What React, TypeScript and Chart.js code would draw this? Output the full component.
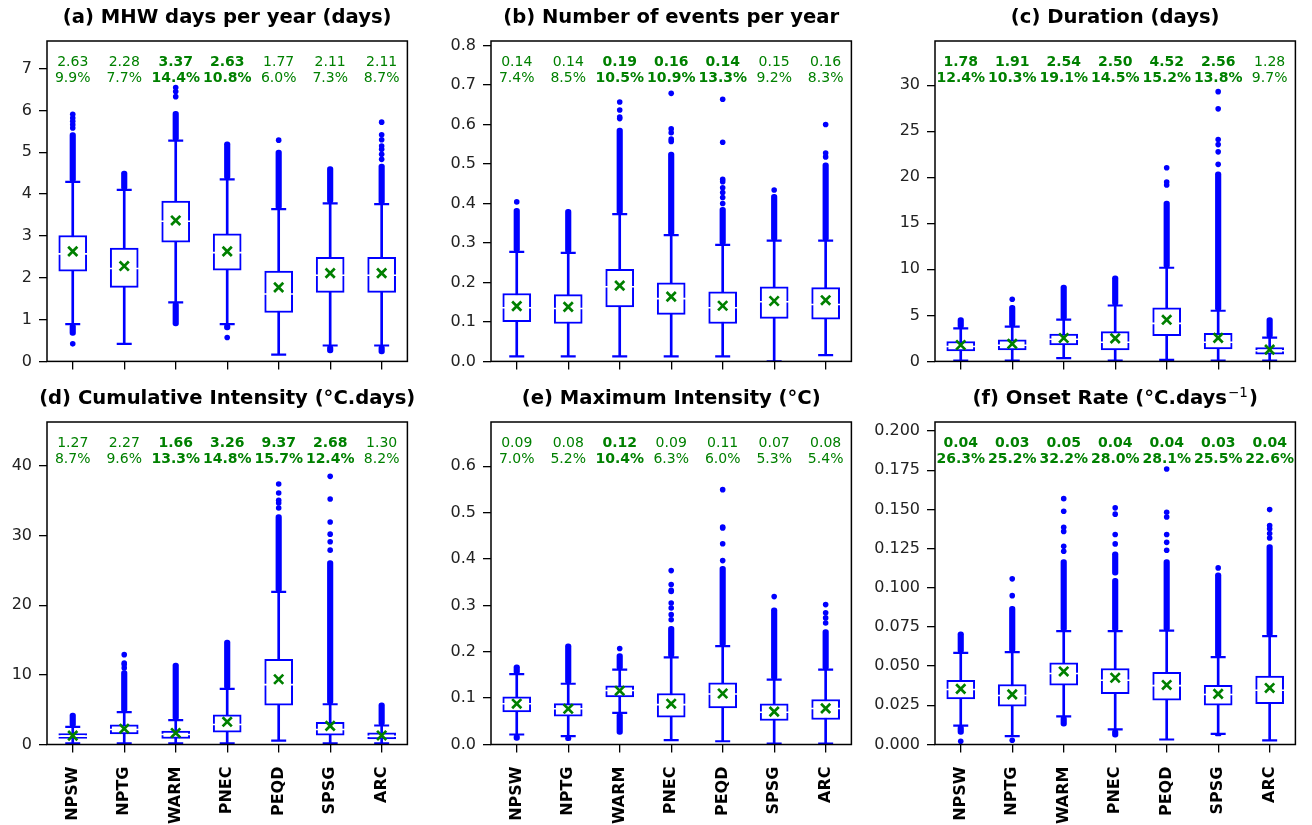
import React, { useEffect, useRef } from 'react';
import { Chart, registerables } from 'chart.js';

Chart.register(...registerables);

const FONT = "'DejaVu Sans', sans-serif";
const BLUE = '#0000ff';
const GREEN = '#008000';

const CATS = ['NPSW', 'NPTG', 'WARM', 'PNEC', 'PEQD', 'SPSG', 'ARC'];

// ---------- (a) MHW days per year ----------
const A_TICKS = [0, 1, 2, 3, 4, 5, 6, 7];
const A_YMAX = 7.66;
const A_Q1 = [2.16, 1.77, 2.85, 2.18, 1.17, 1.65, 1.65];
const A_MED = [2.57, 2.22, 3.35, 2.6, 1.61, 2.06, 2.06];
const A_Q3 = [3.01, 2.71, 3.83, 3.05, 2.16, 2.49, 2.49];
const A_WLO = [0.89, 0.42, 1.41, 0.89, 0.16, 0.38, 0.38];
const A_WHI = [4.29, 4.1, 5.28, 4.35, 3.64, 3.78, 3.76];
const A_MEAN = [2.63, 2.28, 3.37, 2.63, 1.77, 2.11, 2.11];
const A_HI_BAND = [[4.29, 5.47], [4.1, 4.55], [5.28, 5.98], [4.35, 5.25], [3.64, 5.05], [3.78, 4.66], [3.76, 4.72]];
const A_LO_BAND = [[0.62, 0.89], null, [0.85, 1.41], [0.75, 0.89], null, [0.2, 0.38], [0.18, 0.38]];
const A_FLIERS = [[0.42, 5.58, 5.66, 5.74, 5.82, 5.91], [], [6.33, 6.45, 6.55], [0.57], [5.29], [], [4.83, 4.95, 5.07, 5.15, 5.3, 5.42, 5.72]];
const A_NOTE_MEAN = ['2.63', '2.28', '3.37', '2.63', '1.77', '2.11', '2.11'];
const A_NOTE_PCT = ['9.9%', '7.7%', '14.4%', '10.8%', '6.0%', '7.3%', '8.7%'];
const A_BOLD = [false, false, true, true, false, false, false];

// ---------- (b) Number of events per year ----------
const B_TICKS = [0, 0.1, 0.2, 0.3, 0.4, 0.5, 0.6, 0.7, 0.8];
const B_YMAX = 0.8116;
const B_Q1 = [0.1006, 0.096, 0.138, 0.119, 0.096, 0.109, 0.107];
const B_MED = [0.136, 0.134, 0.189, 0.159, 0.136, 0.151, 0.144];
const B_Q3 = [0.172, 0.169, 0.233, 0.199, 0.176, 0.189, 0.187];
const B_WLO = [0.0126, 0.0126, 0.0126, 0.0126, 0.0126, 0.0, 0.016];
const B_WHI = [0.2775, 0.275, 0.373, 0.32, 0.295, 0.306, 0.306];
const B_MEAN = [0.14, 0.138, 0.192, 0.164, 0.141, 0.153, 0.155];
const B_HI_BAND = [[0.2775, 0.388], [0.275, 0.385], [0.373, 0.591], [0.32, 0.53], [0.295, 0.39], [0.306, 0.423], [0.306, 0.503]];
const B_FLIERS = [[0.404], [], [0.615, 0.619, 0.637, 0.657], [0.557, 0.563, 0.579, 0.589, 0.679], [0.4, 0.415, 0.428, 0.44, 0.455, 0.461, 0.555, 0.664], [0.434], [0.518, 0.528, 0.6]];
const B_NOTE_MEAN = ['0.14', '0.14', '0.19', '0.16', '0.14', '0.15', '0.16'];
const B_NOTE_PCT = ['7.4%', '8.5%', '10.5%', '10.9%', '13.3%', '9.2%', '8.3%'];
const B_BOLD = [false, false, true, true, true, false, false];

// ---------- (c) Duration ----------
const C_TICKS = [0, 5, 10, 15, 20, 25, 30];
const C_YMAX = 34.8;
const C_Q1 = [1.15, 1.25, 1.8, 1.26, 2.8, 1.36, 0.79];
const C_MED = [1.62, 1.75, 2.4, 2.08, 4.13, 2.08, 1.15];
const C_Q3 = [2.16, 2.33, 2.98, 3.24, 5.83, 3.05, 1.51];
const C_WLO = [0.1, 0.1, 0.36, 0.1, 0.17, 0.1, 0.1];
const C_WHI = [3.59, 3.78, 4.53, 6.07, 10.17, 5.5, 2.59];
const C_MEAN = [1.78, 1.91, 2.54, 2.5, 4.52, 2.56, 1.28];
const C_HI_BAND = [[3.59, 4.75], [3.78, 6.1], [4.53, 8.3], [6.07, 9.3], [10.17, 17.4], [5.5, 20.6], [2.59, 4.75]];
const C_FLIERS = [[], [6.75], [], [], [19.16, 19.48, 21.03], [21.4, 22.76, 23.55, 24.09, 27.43, 29.3], []];
const C_NOTE_MEAN = ['1.78', '1.91', '2.54', '2.50', '4.52', '2.56', '1.28'];
const C_NOTE_PCT = ['12.4%', '10.3%', '19.1%', '14.5%', '15.2%', '13.8%', '9.7%'];
const C_BOLD = [true, true, true, true, true, true, false];

// ---------- (d) Cumulative Intensity ----------
const D_TICKS = [0, 10, 20, 30, 40];
const D_YMAX = 46.3;
const D_Q1 = [0.86, 1.53, 0.86, 1.77, 5.64, 1.34, 0.81];
const D_MED = [1.2, 2.15, 1.43, 2.87, 8.6, 2.15, 1.19];
const D_Q3 = [1.58, 2.82, 1.91, 4.26, 12.24, 3.2, 1.68];
const D_WLO = [0.15, 0.15, 0.15, 0.15, 0.57, 0.15, 0.15];
const D_WHI = [2.54, 4.64, 3.49, 7.99, 21.9, 5.78, 2.73];
const D_MEAN = [1.27, 2.27, 1.66, 3.26, 9.37, 2.68, 1.3];
const D_HI_BAND = [[2.54, 4.5], [4.64, 10.6], [3.49, 11.7], [7.99, 15.0], [21.9, 33.0], [5.78, 26.4], [2.73, 6.0]];
const D_FLIERS = [[], [11.0, 11.5, 11.7, 12.9], [], [], [33.96, 34.68, 35.05, 36.1, 37.4], [27.9, 29.1, 30.2, 31.95, 35.25, 38.5], []];
const D_NOTE_MEAN = ['1.27', '2.27', '1.66', '3.26', '9.37', '2.68', '1.30'];
const D_NOTE_PCT = ['8.7%', '9.6%', '13.3%', '14.8%', '15.7%', '12.4%', '8.2%'];
const D_BOLD = [false, false, true, true, true, true, false];

// ---------- (e) Maximum Intensity ----------
const E_TICKS = [0, 0.1, 0.2, 0.3, 0.4, 0.5, 0.6];
const E_YMAX = 0.6955;
const E_Q1 = [0.0704, 0.061, 0.1028, 0.059, 0.079, 0.0517, 0.0539];
const E_MED = [0.088, 0.077, 0.1164, 0.086, 0.109, 0.0697, 0.0776];
const E_Q3 = [0.1028, 0.088, 0.1265, 0.11, 0.133, 0.0877, 0.097];
const E_WLO = [0.0216, 0.018, 0.068, 0.0093, 0.007, 0.002, 0.002];
const E_WHI = [0.1516, 0.131, 0.1616, 0.188, 0.212, 0.14, 0.1616];
const E_MEAN = [0.088, 0.077, 0.116, 0.088, 0.11, 0.071, 0.078];
const E_HI_BAND = [[0.1516, 0.172], [0.131, 0.217], [0.1616, 0.196], [0.188, 0.255], [0.212, 0.384], [0.14, 0.2946], [0.1616, 0.248]];
const E_LO_BAND = [[0.009, 0.0216], [0.008, 0.018], [0.022, 0.068], null, null, null, null];
const E_FLIERS = [[], [], [0.207], [0.269, 0.28, 0.2945, 0.305, 0.33, 0.3325, 0.345, 0.375], [0.3966, 0.433, 0.467, 0.469, 0.5496], [0.319], [0.262, 0.273, 0.284, 0.3017]];
const E_NOTE_MEAN = ['0.09', '0.08', '0.12', '0.09', '0.11', '0.07', '0.08'];
const E_NOTE_PCT = ['7.0%', '5.2%', '10.4%', '6.3%', '6.0%', '5.3%', '5.4%'];
const E_BOLD = [false, false, true, false, false, false, false];

// ---------- (f) Onset Rate ----------
const F_TICKS = [0, 0.025, 0.05, 0.075, 0.1, 0.125, 0.15, 0.175, 0.2];
const F_YMAX = 0.2058;
const F_Q1 = [0.0291, 0.0244, 0.0378, 0.0325, 0.0283, 0.0251, 0.026];
const F_MED = [0.0351, 0.0313, 0.0453, 0.041, 0.0376, 0.0319, 0.0346];
const F_Q3 = [0.041, 0.0383, 0.0521, 0.0485, 0.0461, 0.0378, 0.0436];
const F_WLO = [0.0121, 0.0053, 0.018, 0.0096, 0.0032, 0.0068, 0.0026];
const F_WHI = [0.0585, 0.0589, 0.0723, 0.0723, 0.0727, 0.0557, 0.0691];
const F_MEAN = [0.0355, 0.032, 0.0466, 0.0426, 0.038, 0.0323, 0.0361];
const F_HI_BAND = [[0.0585, 0.0719], [0.0589, 0.0882], [0.0723, 0.118], [0.0723, 0.106], [0.0727, 0.118], [0.0557, 0.1095], [0.0691, 0.1276]];
const F_HI_BAND2 = [null, null, null, [0.108, 0.123], null, null, null];
const F_LO_BAND = [[0.0064, 0.0121], null, [0.0117, 0.018], [0.0047, 0.0096], null, [0.0055, 0.0068], null];
const F_FLIERS = [[0.0021], [0.0027, 0.095, 0.1057], [0.1233, 0.1265, 0.136, 0.1386, 0.1488, 0.1569], [0.128, 0.134, 0.147, 0.151], [0.124, 0.129, 0.134, 0.1452, 0.1482, 0.1758], [0.1127], [0.1318, 0.1346, 0.1376, 0.1397, 0.1499]];
const F_NOTE_MEAN = ['0.04', '0.03', '0.05', '0.04', '0.04', '0.03', '0.04'];
const F_NOTE_PCT = ['26.3%', '25.2%', '32.2%', '28.0%', '28.1%', '25.5%', '22.6%'];
const F_BOLD = [true, true, true, true, true, true, true];

type Panel = {
  title: string; sup?: string; tail?: string;
  ticks: number[]; dec: number; ymax: number;
  q1: number[]; med: number[]; q3: number[]; wlo: number[]; whi: number[]; mean: number[];
  bands: (number[] | null)[][]; fliers: number[][];
  noteMean: string[]; notePct: string[]; bold: boolean[];
};

const PANELS: Panel[] = [
  { title: '(a) MHW days per year (days)', ticks: A_TICKS, dec: 0, ymax: A_YMAX, q1: A_Q1, med: A_MED, q3: A_Q3, wlo: A_WLO, whi: A_WHI, mean: A_MEAN, bands: [A_HI_BAND, A_LO_BAND], fliers: A_FLIERS, noteMean: A_NOTE_MEAN, notePct: A_NOTE_PCT, bold: A_BOLD },
  { title: '(b) Number of events per year', ticks: B_TICKS, dec: 1, ymax: B_YMAX, q1: B_Q1, med: B_MED, q3: B_Q3, wlo: B_WLO, whi: B_WHI, mean: B_MEAN, bands: [B_HI_BAND], fliers: B_FLIERS, noteMean: B_NOTE_MEAN, notePct: B_NOTE_PCT, bold: B_BOLD },
  { title: '(c) Duration (days)', ticks: C_TICKS, dec: 0, ymax: C_YMAX, q1: C_Q1, med: C_MED, q3: C_Q3, wlo: C_WLO, whi: C_WHI, mean: C_MEAN, bands: [C_HI_BAND], fliers: C_FLIERS, noteMean: C_NOTE_MEAN, notePct: C_NOTE_PCT, bold: C_BOLD },
  { title: '(d) Cumulative Intensity (°C.days)', ticks: D_TICKS, dec: 0, ymax: D_YMAX, q1: D_Q1, med: D_MED, q3: D_Q3, wlo: D_WLO, whi: D_WHI, mean: D_MEAN, bands: [D_HI_BAND], fliers: D_FLIERS, noteMean: D_NOTE_MEAN, notePct: D_NOTE_PCT, bold: D_BOLD },
  { title: '(e) Maximum Intensity (°C)', ticks: E_TICKS, dec: 1, ymax: E_YMAX, q1: E_Q1, med: E_MED, q3: E_Q3, wlo: E_WLO, whi: E_WHI, mean: E_MEAN, bands: [E_HI_BAND, E_LO_BAND], fliers: E_FLIERS, noteMean: E_NOTE_MEAN, notePct: E_NOTE_PCT, bold: E_BOLD },
  { title: '(f) Onset Rate (°C.days', sup: '\u22121', tail: ')', ticks: F_TICKS, dec: 3, ymax: F_YMAX, q1: F_Q1, med: F_MED, q3: F_Q3, wlo: F_WLO, whi: F_WHI, mean: F_MEAN, bands: [F_HI_BAND, F_HI_BAND2, F_LO_BAND], fliers: F_FLIERS, noteMean: F_NOTE_MEAN, notePct: F_NOTE_PCT, bold: F_BOLD },
];

// layout (pixels)
const COL_LEFT = [47, 491, 935];
const ROW_TOP = [41, 422];
const Y_AXIS_W = [60, 60, 66];
const PLOT_W = 370.5;
const PLOT_H = 322.5;
const PAD_TOP = 41;
const PAD_RIGHT = 6.5;

function pts(vals: number[]) {
  return vals.map((y, i) => ({ x: CATS[i], y }));
}
function flierPts(fl: number[][]) {
  const out: { x: string; y: number }[] = [];
  fl.forEach((arr, i) => arr.forEach((y) => out.push({ x: CATS[i], y })));
  return out;
}

function makeOverlay(p: Panel) {
  return {
    id: 'overlay',
    afterDraw(chart: any) {
      const { ctx, chartArea: ca, scales } = chart;
      ctx.save();
      ctx.strokeStyle = '#000';
      ctx.lineWidth = 1.5;
      ctx.strokeRect(ca.left, ca.top, ca.right - ca.left, ca.bottom - ca.top);
      ctx.textAlign = 'center';
      ctx.textBaseline = 'middle';
      ctx.fillStyle = GREEN;
      CATS.forEach((_, i) => {
        const x = scales.x.getPixelForValue(i);
        ctx.font = `${p.bold[i] ? 'bold ' : ''}14px ${FONT}`;
        ctx.fillText(p.noteMean[i], x, ca.top + 21.3);
        ctx.fillText(p.notePct[i], x, ca.top + 37.7);
      });
      // title
      const cx = (ca.left + ca.right) / 2;
      const ty = ca.top - 22.8;
      ctx.fillStyle = '#000';
      const fMain = `bold 19.6px ${FONT}`;
      const fSup = `13.5px ${FONT}`;
      ctx.font = fMain;
      const w1 = ctx.measureText(p.title).width;
      let w2 = 0, w3 = 0;
      if (p.sup) { ctx.font = fSup; w2 = ctx.measureText(p.sup).width + 2; ctx.font = fMain; w3 = ctx.measureText(p.tail || '').width; }
      const x0 = cx - (w1 + w2 + w3) / 2;
      ctx.textAlign = 'left';
      ctx.font = fMain;
      ctx.fillText(p.title, x0, ty);
      if (p.sup) {
        ctx.font = fSup;
        ctx.fillText(p.sup, x0 + w1 + 1, ty - 6);
        ctx.font = fMain;
        ctx.fillText(p.tail || '', x0 + w1 + w2, ty);
      }
      ctx.restore();
    },
  };
}

function buildConfig(p: Panel, bottom: boolean, yW: number, xH: number): any {
  const datasets: any[] = [];
  datasets.push({
    type: 'bar', data: p.wlo.map((v, i) => [v, p.whi[i]]),
    backgroundColor: BLUE, borderWidth: 0, barThickness: 2, grouped: false, order: 10,
  });
  p.bands.forEach((band) => datasets.push({
    type: 'bar', data: band,
    backgroundColor: BLUE, borderWidth: 0, borderRadius: 2.75, borderSkipped: false,
    barThickness: 5.5, grouped: false, order: 9,
  }));
  datasets.push({
    type: 'line', showLine: false, data: [...pts(p.wlo), ...pts(p.whi)],
    pointStyle: 'line', pointRadius: 7.5, pointBorderColor: BLUE, pointBorderWidth: 2.2, order: 8,
  });
  datasets.push({
    type: 'bar', data: p.q1.map((v, i) => [v, p.q3[i]]),
    backgroundColor: '#ffffff', borderColor: BLUE, borderWidth: 2, borderSkipped: false,
    barThickness: 28, grouped: false, order: 5,
  });
  datasets.push({
    type: 'line', showLine: false, data: pts(p.med),
    pointStyle: 'line', pointRadius: 15, pointBorderColor: '#ffffff', pointBorderWidth: 1.6, order: 4,
  });
  datasets.push({
    type: 'line', showLine: false, data: pts(p.mean),
    pointStyle: 'crossRot', pointRadius: 6.5, pointBorderColor: GREEN, pointBorderWidth: 2.7, order: 3,
  });
  datasets.push({
    type: 'line', showLine: false, data: flierPts(p.fliers),
    pointStyle: 'circle', pointRadius: 2.8, pointBackgroundColor: BLUE, pointBorderWidth: 0, order: 2,
  });

  return {
    type: 'bar',
    data: { labels: CATS, datasets },
    options: {
      responsive: false,
      animation: false,
      events: [],
      layout: { padding: { top: PAD_TOP, right: PAD_RIGHT, left: 0, bottom: 0 } },
      plugins: { legend: { display: false }, tooltip: { enabled: false }, title: { display: false } },
      scales: {
        x: {
          type: 'category', offset: true,
          grid: { display: true, offset: false, drawOnChartArea: false, drawTicks: true, tickLength: 8, color: '#000', lineWidth: 1.3 },
          border: { display: false },
          ticks: { display: bottom, minRotation: 90, maxRotation: 90, autoSkip: false, padding: 14, color: '#000', font: { family: FONT, size: 16, weight: 'bold' } },
          afterFit: (s: any) => { s.height = xH; s.paddingLeft = 0; s.paddingRight = 0; },
        },
        y: {
          type: 'linear', min: 0, max: p.ymax,
          afterBuildTicks: (s: any) => { s.ticks = p.ticks.map((v) => ({ value: v })); },
          afterFit: (s: any) => { s.width = yW; s.paddingTop = 0; s.paddingBottom = 0; },
          grid: { display: true, drawOnChartArea: false, drawTicks: true, tickLength: 8, color: '#000', lineWidth: 1.3 },
          border: { display: false },
          ticks: { padding: 7, color: '#222', font: { family: FONT, size: 16 }, callback: (v: any) => Number(v).toFixed(p.dec) },
        },
      },
    },
    plugins: [makeOverlay(p)],
  };
}

function PanelChart({ panel, col, row }: { panel: Panel; col: number; row: number }) {
  const ref = useRef<HTMLCanvasElement>(null);
  const bottom = row === 1;
  const yW = Y_AXIS_W[col];
  const xH = bottom ? 80.5 : 14.5;
  const width = yW + PLOT_W + PAD_RIGHT;
  const height = PAD_TOP + PLOT_H + xH;
  useEffect(() => {
    if (!ref.current) return;
    const chart = new Chart(ref.current, buildConfig(panel, bottom, yW, xH));
    return () => chart.destroy();
  }, []);
  return (
    <canvas
      ref={ref}
      width={width}
      height={height}
      style={{ position: 'absolute', left: COL_LEFT[col] - yW, top: ROW_TOP[row] - PAD_TOP, width, height }}
    />
  );
}

export default function App() {
  return (
    <div style={{ position: 'absolute', left: 0, top: 0, width: 1312, height: 825, background: '#fff', overflow: 'hidden' }}>
      {PANELS.map((p, i) => (
        <PanelChart key={i} panel={p} col={i % 3} row={Math.floor(i / 3)} />
      ))}
    </div>
  );
}
